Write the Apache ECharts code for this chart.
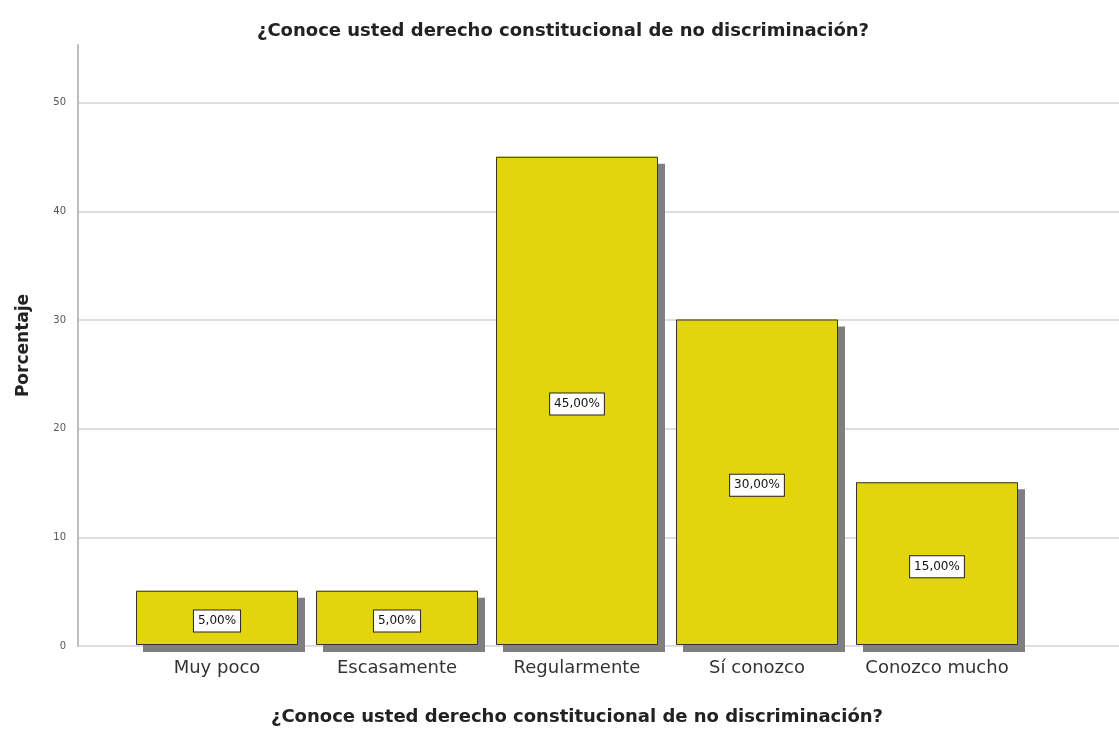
<!DOCTYPE html>
<html>
<head>
<meta charset="utf-8">
<script src="https://cdn.jsdelivr.net/npm/echarts@6/dist/echarts.min.js"></script>
<style>
  html, body { margin: 0; padding: 0; background: #fff; }
  #chart { width: 1119px; height: 731px; }
</style>
</head>
<body>
<div id="chart"></div>
<script>
const titleText = "¿Conoce usted derecho constitucional de no discriminación?";
const categories = ["Muy poco", "Escasamente", "Regularmente", "Sí conozco", "Conozco mucho"];
const percentages = [5, 5, 45, 30, 15];
const yMax = 55.3;

const chart = echarts.init(document.getElementById("chart"));

chart.setOption({
  animation: false,
  backgroundColor: "#fff",
  title: {
    text: titleText,
    left: 558,
    top: 17,
    textAlign: "center",
    textStyle: {
      fontFamily: "DejaVu Sans",
      fontSize: 18,
      fontWeight: "bold",
      color: "#222",
    },
  },
  grid: [
    // fondo: eje Y y líneas de cuadrícula
    { left: 78, right: 0, top: 45, bottom: 85 },
    // barras
    { left: 127, width: 900, top: 45, bottom: 85 },
  ],
  xAxis: [
    { gridIndex: 0, type: "value", show: false, min: 0, max: 1 },
    {
      gridIndex: 1,
      type: "category",
      data: categories,
      axisLine: { show: false },
      axisTick: { show: false },
      axisLabel: {
        interval: 0,
        hideOverlap: false,
        margin: 14,
        fontFamily: "DejaVu Sans",
        fontSize: 18,
        color: "#333",
      },
      name: titleText,
      nameLocation: "middle",
      nameGap: 63,
      nameTextStyle: {
        fontFamily: "DejaVu Sans",
        fontSize: 18,
        fontWeight: "bold",
        color: "#222",
        verticalAlign: "top",
      },
    },
  ],
  yAxis: [
    {
      gridIndex: 0,
      type: "value",
      min: 0,
      max: yMax,
      interval: 10,
      axisLine: { show: true, lineStyle: { color: "#bdbdbd", width: 2 } },
      axisTick: { show: false },
      axisLabel: {
        showMaxLabel: false,
        margin: 12,
        fontFamily: "DejaVu Sans",
        fontSize: 10,
        color: "#555",
      },
      splitLine: {
        show: true,
        showMaxLine: false,
        lineStyle: { color: "#dedede", width: 2 },
      },
      name: "Porcentaje",
      nameLocation: "middle",
      nameGap: 46,
      nameTextStyle: {
        fontFamily: "DejaVu Sans",
        fontSize: 17,
        fontWeight: "bold",
        color: "#222",
      },
    },
    { gridIndex: 1, type: "value", min: 0, max: yMax, show: false },
  ],
  series: [
    {
      // sombra de las barras
      type: "bar",
      xAxisIndex: 1,
      yAxisIndex: 1,
      data: percentages,
      barWidth: 162,
      silent: true,
      itemStyle: {
        color: "#e2d50e",
        borderWidth: 0,
        shadowColor: "#7f7f7f",
        shadowOffsetX: 7,
        shadowOffsetY: 7,
        shadowBlur: 0,
      },
    },
    {
      type: "bar",
      xAxisIndex: 1,
      yAxisIndex: 1,
      data: percentages,
      barWidth: 162,
      barGap: "-100%",
      itemStyle: {
        color: "#e2d50e",
        borderColor: "#333",
        borderWidth: 1,
      },
      label: {
        show: true,
        position: "inside",
        offset: [0, 3],
        formatter: (p) => p.value.toFixed(2).replace(".", ",") + "%",
        fontFamily: "DejaVu Sans",
        fontSize: 12,
        color: "#111",
        backgroundColor: "#fff",
        borderColor: "#222",
        borderWidth: 1,
        padding: [5, 4, 4, 4],
      },
    },
  ],
});
</script>
</body>
</html>
